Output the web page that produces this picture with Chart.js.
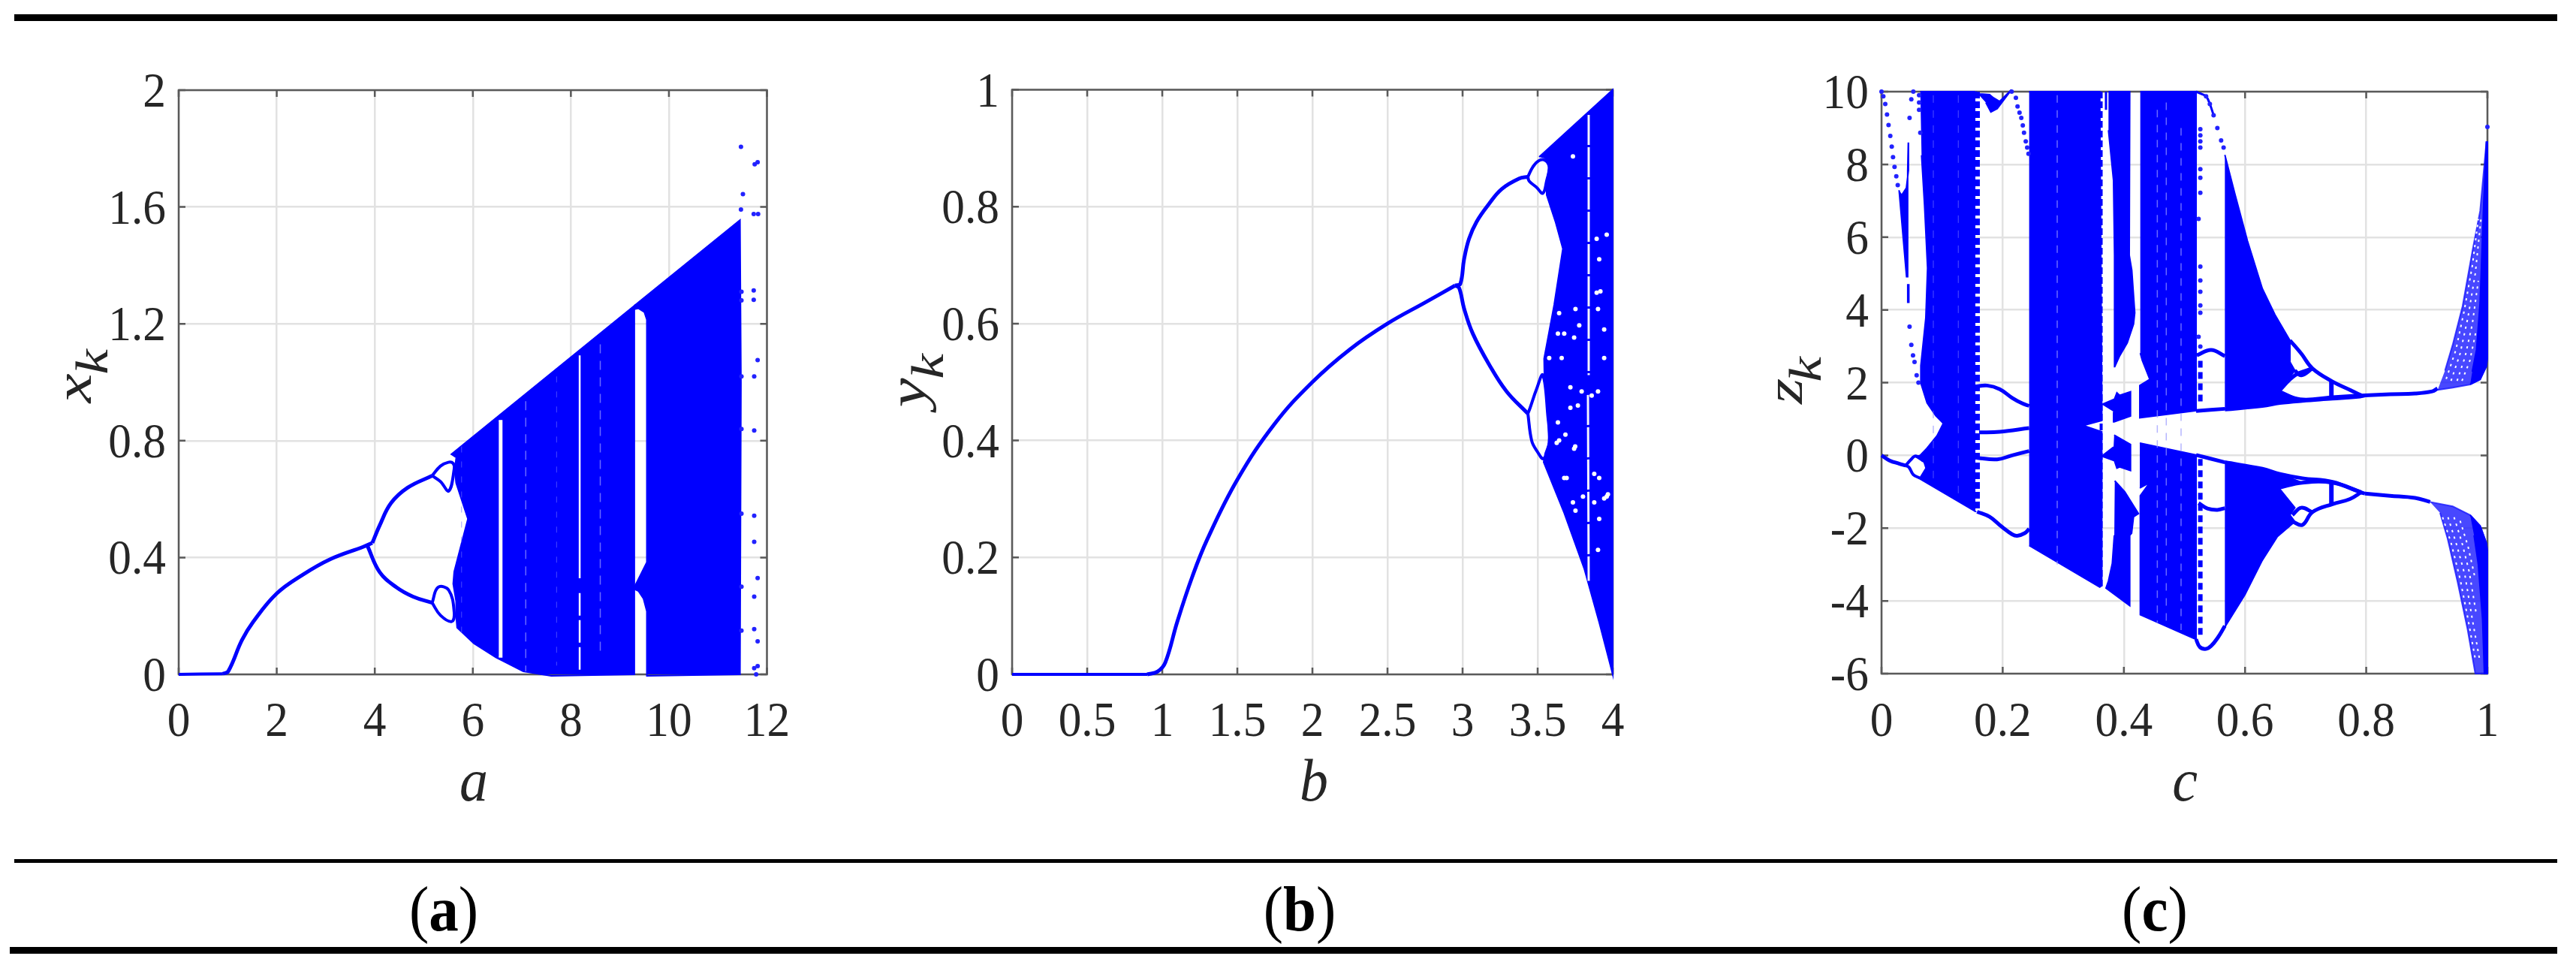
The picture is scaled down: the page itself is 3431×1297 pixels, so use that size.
<!DOCTYPE html>
<html>
<head>
<meta charset="utf-8">
<script src="https://cdn.jsdelivr.net/npm/chart.js@4/dist/chart.umd.js"></script>
<style>
body { margin: 0; background: #fff; width: 3431px; height: 1297px; overflow: hidden; position: relative; }
canvas { position: absolute; top: 90px; filter: blur(0.7px); }
.rule { position: absolute; background: #000; }
.cap { position: absolute; top: 1168px; font: 85px/1 "Liberation Serif", serif; color: #000; transform: translateX(-50%) scaleX(0.93); white-space: nowrap; }
</style>
</head>
<body>
<div class="rule" style="left:19px;width:3387px;top:19px;height:9px"></div>
<div class="rule" style="left:19px;width:3387px;top:1144px;height:5px"></div>
<div class="rule" style="left:13px;width:3393px;top:1261px;height:9px"></div>
<canvas id="chartA" width="1150" height="1010" style="left:0"></canvas>
<canvas id="chartB" width="1150" height="1010" style="left:1150px"></canvas>
<canvas id="chartC" width="1131" height="1010" style="left:2300px"></canvas>
<div class="cap" style="left:591px">(<b>a</b>)</div>
<div class="cap" style="left:1731px">(<b>b</b>)</div>
<div class="cap" style="left:2870px">(<b>c</b>)</div>
<script>
// tick labels
const aTicksX = [0, 2, 4, 6, 8, 10, 12];
const aTicksY = [0, 0.4, 0.8, 1.2, 1.6, 2];
const bTicksX = [0, 0.5, 1, 1.5, 2, 2.5, 3, 3.5, 4];
const bTicksY = [0, 0.2, 0.4, 0.6, 0.8, 1];
const cTicksX = [0, 0.2, 0.4, 0.6, 0.8, 1];
const cTicksY = [-6, -4, -2, 0, 2, 4, 6, 8, 10];

// panel a, values
const aFlat = [[0,0],[0.9,0.002]];
const aStem = [[0.9,0.002],[1.01,0.01],[1.29,0.117],[1.52,0.18],[2,0.277],[2.53,0.341],[3.09,0.394],[3.77,0.437],[3.95,0.45]];
const aUpper = [[3.95,0.45],[4.1,0.51],[4.33,0.586],[4.67,0.639],[5.17,0.68]];
const aLower = [[3.85,0.44],[4.1,0.35],[4.44,0.298],[4.78,0.266],[5.17,0.245]];
const aLobeTop = [[5.17,0.68],[5.34,0.713],[5.5,0.726],[5.6,0.722],[5.62,0.703],[5.51,0.628],[5.34,0.66],[5.17,0.68]];
const aLobeLow = [[5.17,0.245],[5.29,0.298],[5.51,0.288],[5.62,0.213],[5.57,0.181],[5.34,0.202],[5.17,0.245]];
const aBandLeft = [[5.55,0.752],[9.295,1.262],[9.295,0],[7.6,-0.005],[7.03,0.01],[6.47,0.058],[6.02,0.106],[5.68,0.16],[5.66,0.2],[5.66,0.25],[5.6,0.31],[5.62,0.351],[5.9,0.532],[5.66,0.655],[5.63,0.7],[5.66,0.74]];
const aBandRight = [[9.295,1.262],[11.45,1.555],[11.47,1],[11.45,0],[9.55,-0.005],[9.55,0.216],[9.48,0.26],[9.38,0.285],[9.295,0.292],[9.3,0.3],[9.42,0.34],[9.55,0.384],[9.55,1.214],[9.5,1.24],[9.38,1.253],[9.295,1.25]];
const aSlit = [[6.53,0.868],[6.59,0.868],[6.59,0.06],[6.53,0.06]];
const aSpeckle = [[6.51,0.868],[6.51,0.06]];
const aGapUp = [[8.18,1.092],[8.18,0.329]];
const aGapLow = [[8.18,0.278],[8.18,0.015]];
const aDash1 = [[7.08,0.935],[7.08,0.01]];
const aDash2 = [[8.6,1.13],[8.6,0.06]];
const aDash3 = [[7.71,1.02],[7.71,0.03]];
const aDash4 = [[5.77,0.78],[5.77,0.14]];
const aDots = [[11.47,1.806],[11.51,1.644],[11.47,1.591],[11.75,1.746],[11.81,1.753],[11.73,1.576],[11.82,1.576],[11.73,1.314],[11.73,1.282],[11.81,1.076],[11.74,1.02],[11.74,0.835],[11.74,0.543],[11.74,0.454],[11.81,0.33],[11.74,0.266],[11.74,0.155],[11.81,0.113],[11.74,0.021],[11.81,0.028],[11.78,0],[11.48,1.31],[11.48,1.28],[11.48,1.02],[11.48,0.84],[11.48,0.55],[11.48,0.3],[11.48,0.15]];

// panel b
const bFlat = [[0,0],[0.9,0]];
const bStem = [[0.9,0],[0.97,0.005],[1.02,0.02],[1.1,0.09],[1.2,0.167],[1.3,0.231],[1.5,0.333],[1.75,0.429],[2,0.5],[2.25,0.556],[2.5,0.6],[2.75,0.636],[2.95,0.665]];
const bUpper = [[2.95,0.665],[2.985,0.668],[3.01,0.71],[3.043,0.745],[3.093,0.774],[3.177,0.805],[3.26,0.83],[3.377,0.848],[3.435,0.851]];
const bLower = [[2.95,0.665],[2.977,0.661],[3.01,0.626],[3.068,0.583],[3.177,0.53],[3.293,0.484],[3.435,0.446]];
const bLobeTop = [[3.435,0.851],[3.468,0.868],[3.51,0.879],[3.552,0.879],[3.577,0.868],[3.56,0.844],[3.535,0.823],[3.493,0.833],[3.443,0.844],[3.435,0.851]];
const bLobeLow = [[3.435,0.446],[3.46,0.4],[3.493,0.383],[3.54,0.369],[3.577,0.397],[3.568,0.442],[3.535,0.512],[3.493,0.488],[3.45,0.456],[3.435,0.446]];
const bBand = [[3.51,0.885],[4,1],[4,0],[3.91,0.089],[3.81,0.181],[3.677,0.276],[3.54,0.363],[3.55,0.378],[3.577,0.397],[3.568,0.442],[3.545,0.512],[3.543,0.54],[3.61,0.632],[3.668,0.728],[3.62,0.773],[3.56,0.82],[3.56,0.844],[3.577,0.868],[3.55,0.882]];
const bSlitUp = [[3.84,0.957],[3.84,0.512]];
const bSlitLow = [[3.835,0.478],[3.84,0.16]];
const bHoles = [[3.743,0.386],[3.893,0.653],[3.96,0.752],[3.793,0.484],[3.718,0.491],[3.643,0.618],[3.743,0.576],[3.677,0.583],[3.635,0.431],[3.685,0.41],[3.693,0.336],[3.802,0.304],[3.877,0.294],[3.96,0.304],[3.91,0.266],[3.902,0.213],[3.735,0.886],[3.893,0.745],[3.91,0.71],[3.943,0.59],[3.902,0.484],[3.768,0.46],[3.718,0.456],[3.627,0.396],[3.577,0.541],[3.735,0.294],[3.66,0.541],[3.635,0.583],[3.752,0.625],[3.777,0.597],[3.643,0.4],[3.677,0.336],[3.752,0.28],[3.86,0.477],[3.877,0.343],[3.943,0.301],[3.968,0.308],[3.91,0.336],[3.943,0.541],[3.902,0.625],[3.918,0.655],[3.75,0.39]];

// panel c
const cTail = [[0,0],[0.0132,-0.14],[0.0297,-0.23],[0.04,-0.28]];
const cLobeUp = [[0.04,-0.28],[0.0483,-0.12],[0.0566,-0.02],[0.0702,-0.16]];
const cLobeLow = [[0.04,-0.28],[0.0454,-0.33],[0.0525,-0.53],[0.0628,-0.62]];
const cWedge = [[0.029,7.29],[0.0413,4.91],[0.0425,4.91],[0.0432,7.84],[0.0442,8.6],[0.0445,7.84],[0.041,7.35],[0.034,7.17]];
const cDash0 = [[0.0442,4.71],[0.0442,4.19]];
const cDotsLeft = [[0,10],[0.003,9.87],[0.0062,9.66],[0.0091,9.37],[0.0116,9.08],[0.0145,8.78],[0.0169,8.49],[0.019,8.2],[0.0215,7.93],[0.0244,7.67],[0.0268,7.43],[0.0463,3.54],[0.0492,3.04],[0.052,2.75],[0.0545,2.57],[0.0463,9.28],[0.0492,9.79],[0.0525,10],[0.064,8.87],[0.062,9.9],[0.062,9.7],[0.062,9.5],[0.058,2.2],[0.061,2]];
const cBand1 = [[0.064,10],[0.1537,10],[0.1537,-1.53],[0.1557,-1.55],[0.0628,-0.64],[0.0735,-0.35],[0.0702,-0.18],[0.0566,-0.04],[0.0636,0],[0.0752,0.2],[0.0917,0.54],[0.102,0.88],[0.0896,1.09],[0.0752,1.44],[0.0649,1.99],[0.0649,2.47],[0.0731,3.78],[0.076,5.15],[0.071,6.88],[0.0661,8.25]];
const cStripe1 = [[0.158,10],[0.158,-1.55]];
const cWinUp = [[0.1537,1.89],[0.1743,1.92],[0.195,1.82],[0.2156,1.58],[0.232,1.43],[0.2437,1.36]];
const cWinMid1 = [[0.1611,0.63],[0.195,0.65],[0.2437,0.75]];
const cWinMid2 = [[0.1578,-0.07],[0.1908,-0.11],[0.2156,0],[0.2437,0.12]];
const cWinLow = [[0.1578,-1.55],[0.1784,-1.69],[0.1991,-1.97],[0.2156,-2.17],[0.2239,-2.21],[0.2363,-2.14],[0.2437,-2.02]];
const cBlob = [[0.1557,10],[0.1619,9.94],[0.1784,9.92],[0.1847,9.83],[0.195,9.73],[0.2144,10.05],[0.191,9.53],[0.1805,9.44],[0.1722,9.7]];
const cFall = [[0.2148,10],[0.2218,9.83],[0.2245,9.59],[0.2278,9.42],[0.2307,9.28],[0.2332,9.07],[0.2352,8.87],[0.2381,8.63],[0.2404,8.46],[0.2426,8.29]];
const cBand2 = [[0.2437,10],[0.3602,10],[0.3635,1.41],[0.3635,0.96],[0.3333,0.82],[0.3635,0.65],[0.3635,-3.58],[0.3602,-3.62],[0.2437,-2.48]];
const cStripe2 = [[0.3625,10],[0.3625,-3.6]];
const cStick = [[0.3705,10],[0.3705,9.5]];
const cBand3Up = [[0.3746,10],[0.4097,10],[0.4089,5.5],[0.4131,5.09],[0.418,3.92],[0.416,3.61],[0.4056,3.09],[0.3932,2.74],[0.385,2.44],[0.3842,4.12],[0.385,5.5],[0.3829,7.56],[0.3746,8.94]];
const cCrossUp = [[0.3635,1.4],[0.3845,1.55],[0.3885,1.72],[0.393,1.65],[0.411,1.75],[0.411,1.08],[0.384,0.92],[0.383,1.2]];
const cCrossLow = [[0.384,0.56],[0.411,0.3],[0.411,-0.42],[0.393,-0.32],[0.3885,-0.35],[0.3845,-0.15],[0.3635,-0.02],[0.383,0.23]];
const cBand3Low = [[0.385,-0.7],[0.4015,-1.0],[0.4241,-1.6],[0.416,-1.69],[0.4128,-2.14],[0.4097,-2.2],[0.4097,-4.13],[0.3705,-3.65],[0.3746,-3.45],[0.3809,-2.97],[0.3842,-2.2]];
const cBand4Up = [[0.4271,10],[0.5192,10],[0.5192,1.23],[0.4263,1.03],[0.4263,1.92],[0.4428,2.09],[0.4304,2.61],[0.4271,2.81]];
const cBand4Low = [[0.4263,0.34],[0.5192,0.01],[0.5192,-5.06],[0.4271,-4.38],[0.4271,-1.11],[0.4428,-0.75],[0.4263,-0.9]];
const cDash1 = [[0.0855,9.9],[0.0855,-0.7]];
const cDash2 = [[0.1268,9.9],[0.1268,-1.1]];
const cDash3 = [[0.29,9.9],[0.29,-3]];
const cDash4 = [[0.4552,9.5],[0.4552,-4.6]];
const cDash5 = [[0.47,9.7],[0.47,-4.7]];
const cDash6 = [[0.4944,9],[0.4944,-4.8]];
const cDotsDome = [[0.5262,8.97],[0.5262,8.8],[0.5262,8.63],[0.5262,8.46],[0.5262,7.87],[0.5262,7.63],[0.5262,7.22],[0.5233,6.5],[0.5262,5.19],[0.5262,4.81],[0.5262,4.5],[0.5262,4.12],[0.5262,3.92],[0.5233,3.26],[0.5262,2.99],[0.5357,9.87],[0.5419,9.66],[0.5481,9.35],[0.5543,9],[0.5605,8.66],[0.5646,8.46]];
const cDomeLine = [[0.5192,10],[0.5275,9.94],[0.5357,9.87],[0.5419,9.66],[0.5481,9.35]];
const cStripe3Up = [[0.5262,2.6],[0.5262,1.4]];
const cStripe3Low = [[0.5262,-0.1],[0.5262,-5]];
const cArchUp = [[0.5204,2.75],[0.544,2.9],[0.5667,2.73]];
const cArchLow = [[0.5233,-1.31],[0.5378,-1.46],[0.5543,-1.5],[0.5667,-1.45]];
const cBaseUp = [[0.5192,1.22],[0.5667,1.28]];
const cBaseLow = [[0.5192,0.01],[0.5667,-0.19]];
const cBowl = [[0.5192,-5.06],[0.5254,-5.27],[0.5357,-5.32],[0.544,-5.24],[0.5543,-5.03],[0.5667,-4.69]];
const cBand5Up = [[0.5667,8.26],[0.5832,7.19],[0.6039,5.9],[0.6286,4.58],[0.6493,3.87],[0.6741,3.16],[0.6741,2.57],[0.6822,2.33],[0.6555,1.76],[0.6907,1.54],[0.6575,1.44],[0.6286,1.36],[0.5667,1.26]];
const cBand5Low = [[0.5667,-0.19],[0.6286,-0.37],[0.6575,-0.51],[0.6947,-0.75],[0.6555,-0.89],[0.6822,-1.44],[0.6741,-1.64],[0.6822,-1.82],[0.6534,-2.23],[0.6286,-2.88],[0.5997,-3.83],[0.5667,-4.72]];
const cTopOuter = [[0.6741,3.16],[0.6927,2.8],[0.7112,2.39],[0.7443,2.03],[0.7732,1.8],[0.7918,1.65],[0.798,1.65]];
const cTopLobe = [[0.6822,2.33],[0.6927,2.2],[0.7112,2.39]];
const cTopInner = [[0.6555,1.76],[0.6822,2.2],[0.7112,2.39]];
const cTopBase = [[0.5667,1.26],[0.6286,1.36],[0.6575,1.44],[0.6947,1.5],[0.7443,1.56],[0.79,1.62],[0.798,1.65]];
const cTopFlat = [[0.6555,1.76],[0.6907,1.54],[0.7443,1.6],[0.7918,1.65]];
const cTopBar = [[0.7425,2.05],[0.7425,1.58]];
const cLowOuter = [[0.6782,-1.82],[0.6947,-1.91],[0.7112,-1.56],[0.7443,-1.34],[0.7732,-1.2],[0.7918,-1.01]];
const cLowLobe = [[0.6782,-1.64],[0.6927,-1.44],[0.7112,-1.56]];
const cLowBase = [[0.5667,-0.19],[0.6286,-0.37],[0.6575,-0.51],[0.6947,-0.63],[0.7443,-0.73],[0.79,-1.01],[0.798,-1.05]];
const cLowFlat = [[0.6555,-0.89],[0.6947,-0.75],[0.7443,-0.75],[0.7918,-1.01]];
const cLowBar = [[0.7425,-0.75],[0.7425,-1.36]];
const cFlatUp = [[0.798,1.65],[0.8392,1.68],[0.8805,1.7],[0.909,1.76],[0.9176,1.84]];
const cFlatLow = [[0.798,-1.05],[0.8392,-1.11],[0.8805,-1.17],[0.9055,-1.28]];
const cFanUp = [[0.9178,1.8],[0.9427,1.86],[0.9715,1.95],[0.988,2.09],[0.9983,2.45],[1,2.7],[1,8.61],[0.9983,8.61],[0.988,6.72],[0.9756,5.65],[0.959,4.1],[0.9427,3.04],[0.93,2.33]];
const cFanUpCore = [[0.9715,1.95],[0.988,2.09],[0.9983,2.45],[1,2.7],[1,8.61],[0.9983,8.61],[0.994,7],[0.988,4.2],[0.982,2.9],[0.975,2.3]];
const cFanLow = [[0.9055,-1.28],[0.9427,-1.4],[0.9715,-1.64],[0.988,-1.94],[0.9983,-2.41],[1,-2.65],[1,-6],[0.98,-6],[0.9672,-4.78],[0.9508,-3.48],[0.9343,-2.29],[0.9219,-1.58]];
const cFanLowCore = [[0.9715,-1.64],[0.988,-1.94],[0.9983,-2.41],[1,-2.65],[1,-6],[0.995,-6],[0.992,-4.5],[0.985,-3],[0.978,-2.2]];
const cRibUp1 = [[0.932,2.1],[0.948,2.9],[0.962,4],[0.975,5.2],[0.985,6.5]];
const cRibUp2 = [[0.94,2.05],[0.955,2.8],[0.968,3.8],[0.98,5],[0.99,6.6]];
const cRibUp3 = [[0.95,2.05],[0.963,2.7],[0.975,3.6],[0.985,4.8]];
const cRibUp4 = [[0.958,2.05],[0.971,2.6],[0.981,3.4]];
const cRibLow1 = [[0.926,-1.7],[0.94,-2.4],[0.955,-3.4],[0.968,-4.5],[0.98,-5.6]];
const cRibLow2 = [[0.935,-1.7],[0.95,-2.5],[0.963,-3.3],[0.975,-4.5],[0.987,-5.6]];
const cRibLow3 = [[0.945,-1.7],[0.958,-2.4],[0.97,-3.2],[0.982,-4.4]];
const cRibLow4 = [[0.955,-1.8],[0.968,-2.5],[0.98,-3.4]];
const cTopDot = [[1,9.03]];

const BLUE = '#0000ff';
const xy = pts => pts.map(p => ({x: p[0], y: p[1]}));

function band(pts, color, order) {
    color = color || BLUE;
    return {data: xy(pts), showLine: true, fill: 'shape', backgroundColor: color, borderColor: color, borderWidth: 2, pointRadius: 0, order: order === undefined ? 3 : order, clip: false};
}
function curve(pts, width) {
    return {data: xy(pts), showLine: true, fill: false, borderColor: BLUE, borderWidth: width || 5, pointRadius: 0, tension: 0.4, order: 2, clip: false};
}
function stripe(pts, color, width, dash) {
    return {data: xy(pts), showLine: true, fill: false, borderColor: color, borderWidth: width, borderDash: dash || [], pointRadius: 0, order: 1};
}
function dots(pts, color, radius) {
    return {data: xy(pts), showLine: false, backgroundColor: color || '#2222ff', borderWidth: 0, pointRadius: radius || 3, order: 1, clip: false};
}

const PALE = 'rgba(150,150,255,0.7)';
const FAINT = 'rgba(110,110,255,0.55)';
const FAN = 'rgba(20,20,255,0.78)';

function textAt(ctx, str, x, y, font, align, sx) {
    ctx.save();
    ctx.translate(x, y);
    ctx.scale(sx, 1);
    ctx.font = font;
    ctx.textAlign = align;
    ctx.textBaseline = 'alphabetic';
    ctx.fillStyle = '#262626';
    ctx.fillText(str, 0, 0);
    ctx.restore();
}
function sideText(ctx, str, x, y, font) {
    ctx.save();
    ctx.translate(x, y);
    ctx.scale(0.8, 1);
    ctx.rotate(-Math.PI / 2);
    ctx.font = font;
    ctx.textAlign = 'center';
    ctx.textBaseline = 'middle';
    ctx.fillStyle = '#262626';
    ctx.fillText(str, 0, 0);
    ctx.restore();
}

function panel(id, cfg) {
    const frame = {
        id: 'frame',
        beforeDatasetsDraw(chart) {
            const {ctx, chartArea: a, scales} = chart;
            ctx.save();
            ctx.strokeStyle = '#5a5a5a';
            ctx.lineWidth = 2.5;
            ctx.strokeRect(a.left, a.top, a.right - a.left, a.bottom - a.top);
            ctx.beginPath();
            cfg.ticksX.forEach(v => {
                const x = scales.x.getPixelForValue(v);
                ctx.moveTo(x, a.bottom); ctx.lineTo(x, a.bottom - 9);
                ctx.moveTo(x, a.top); ctx.lineTo(x, a.top + 9);
            });
            cfg.ticksY.forEach(v => {
                const y = scales.y.getPixelForValue(v);
                ctx.moveTo(a.left, y); ctx.lineTo(a.left + 9, y);
                ctx.moveTo(a.right, y); ctx.lineTo(a.right - 9, y);
            });
            ctx.stroke();
            ctx.restore();
        },
        afterDraw(chart) {
            const {ctx, chartArea: a, scales} = chart;
            const font = '66px "Liberation Serif", serif';
            cfg.ticksX.forEach(v => textAt(ctx, String(v), scales.x.getPixelForValue(v), 890, font, 'center', 0.93));
            cfg.ticksY.forEach(v => textAt(ctx, String(v), a.left - 17, scales.y.getPixelForValue(v) + 22, font, 'right', 0.93));
            textAt(ctx, cfg.xTitle, cfg.xTitleAt, 976, 'italic 80px "Liberation Serif", serif', 'center', 0.95);
            sideText(ctx, cfg.yTitle, cfg.yAt[0], cfg.yAt[1], 'italic 88px "Liberation Serif", serif');
            sideText(ctx, 'k', cfg.kAt[0], cfg.kAt[1], 'italic 76px "Liberation Serif", serif');
        }
    };
    const gridStyle = {color: '#e2e2e2', lineWidth: 2.5, drawTicks: false};
    return new Chart(document.getElementById(id), {
        type: 'scatter',
        data: {datasets: cfg.datasets},
        plugins: [frame],
        options: {
            responsive: false,
            animation: false,
            devicePixelRatio: 1,
            layout: {padding: cfg.padding},
            plugins: {legend: {display: false}, tooltip: {enabled: false}, title: {display: false}},
            scales: {
                x: {type: 'linear', min: cfg.ticksX[0], max: cfg.ticksX[cfg.ticksX.length - 1], grid: gridStyle, border: {display: false},
                    ticks: {display: false}, afterBuildTicks: s => { s.ticks = cfg.ticksX.map(v => ({value: v})); }},
                y: {type: 'linear', min: cfg.ticksY[0], max: cfg.ticksY[cfg.ticksY.length - 1], grid: gridStyle, border: {display: false},
                    ticks: {display: false}, afterBuildTicks: s => { s.ticks = cfg.ticksY.map(v => ({value: v})); }}
            }
        }
    });
}

panel('chartA', {
    ticksX: aTicksX, ticksY: aTicksY, xTitle: 'a', xTitleAt: 631, yTitle: 'x', yAt: [102, 427], kAt: [127, 392],
    padding: {left: 238, right: 128.5, top: 30, bottom: 202},
    datasets: [
        band(aBandLeft), band(aBandRight),
        curve(aFlat, 4), curve(aStem), curve(aUpper), curve(aLower), curve(aLobeTop, 4), curve(aLobeLow, 4),
        band(aSlit, '#ffffff', 1),
        stripe(aSpeckle, BLUE, 3, [6, 6]),
        stripe(aGapUp, '#ffffff', 2.5), stripe(aGapLow, '#ffffff', 2.5, [30, 6]),
        stripe(aDash1, PALE, 1.5, [12, 10]), stripe(aDash2, PALE, 1.5, [12, 10]),
        stripe(aDash3, FAINT, 1.2, [8, 12]), stripe(aDash4, FAINT, 1.2, [8, 12]),
        dots(aDots)
    ]
});

panel('chartB', {
    ticksX: bTicksX, ticksY: bTicksY, xTitle: 'b', xTitleAt: 600, yTitle: 'y', yAt: [63, 433], kAt: [90, 398],
    padding: {left: 198, right: 152, top: 29.5, bottom: 202},
    datasets: [
        band(bBand),
        curve(bFlat, 4), curve(bStem), curve(bUpper), curve(bLower), curve(bLobeTop, 4), curve(bLobeLow, 4),
        stripe(bSlitUp, '#f4f4ff', 3, [40, 3]), stripe(bSlitLow, '#f4f4ff', 3, [40, 3]),
        dots(bHoles, '#ffffff', 3)
    ]
});

panel('chartC', {
    ticksX: cTicksX, ticksY: cTicksY, xTitle: 'c', xTitleAt: 610, yTitle: 'z', yAt: [81, 431], kAt: [109, 402],
    padding: {left: 206, right: 118, top: 32, bottom: 203},
    datasets: [
        band(cBand1), band(cBand2), band(cBand3Up), band(cBand3Low), band(cCrossUp), band(cCrossLow),
        band(cBand4Up), band(cBand4Low), band(cBand5Up), band(cBand5Low), band(cWedge), band(cBlob),
        band(cFanUpCore), band(cFanLowCore), band(cFanUp, FAN, 4), band(cFanLow, FAN, 4),
        curve(cTail), curve(cLobeUp, 4), curve(cLobeLow, 4),
        curve(cWinUp), curve(cWinMid1), curve(cWinMid2), curve(cWinLow),
        curve(cDomeLine, 3), curve(cArchUp), curve(cArchLow), curve(cBaseUp), curve(cBaseLow), curve(cBowl),
        curve(cTopOuter), curve(cTopLobe), curve(cTopInner), curve(cTopBase), curve(cTopFlat), curve(cTopBar, 6),
        curve(cLowOuter), curve(cLowLobe), curve(cLowBase), curve(cLowFlat), curve(cLowBar, 6),
        curve(cFlatUp), curve(cFlatLow),
        stripe(cDash0, BLUE, 3.5),
        stripe(cStripe1, BLUE, 7, [9, 4]), stripe(cStripe2, BLUE, 4, [9, 4]), stripe(cStick, BLUE, 3),
        stripe(cStripe3Up, BLUE, 6, [9, 6]), stripe(cStripe3Low, BLUE, 6, [9, 6]),
        stripe(cDash1, FAINT, 1.3, [10, 10]), stripe(cDash2, FAINT, 1.3, [10, 10]), stripe(cDash3, PALE, 1.5, [10, 10]),
        stripe(cDash4, PALE, 1.5, [10, 10]), stripe(cDash5, PALE, 1.5, [10, 10]), stripe(cDash6, PALE, 1.5, [10, 10]),
        stripe(cRibUp1, '#ffffff', 2, [3, 6]), stripe(cRibUp2, '#ffffff', 2, [3, 6]), stripe(cRibUp3, '#ffffff', 2, [3, 6]), stripe(cRibUp4, '#ffffff', 2, [3, 6]),
        stripe(cRibLow1, '#ffffff', 2, [3, 6]), stripe(cRibLow2, '#ffffff', 2, [3, 6]), stripe(cRibLow3, '#ffffff', 2, [3, 6]), stripe(cRibLow4, '#ffffff', 2, [3, 6]),
        dots(cDotsLeft), dots(cDotsDome), dots(cFall), dots(cTopDot)
    ]
});
</script>
</body>
</html>
